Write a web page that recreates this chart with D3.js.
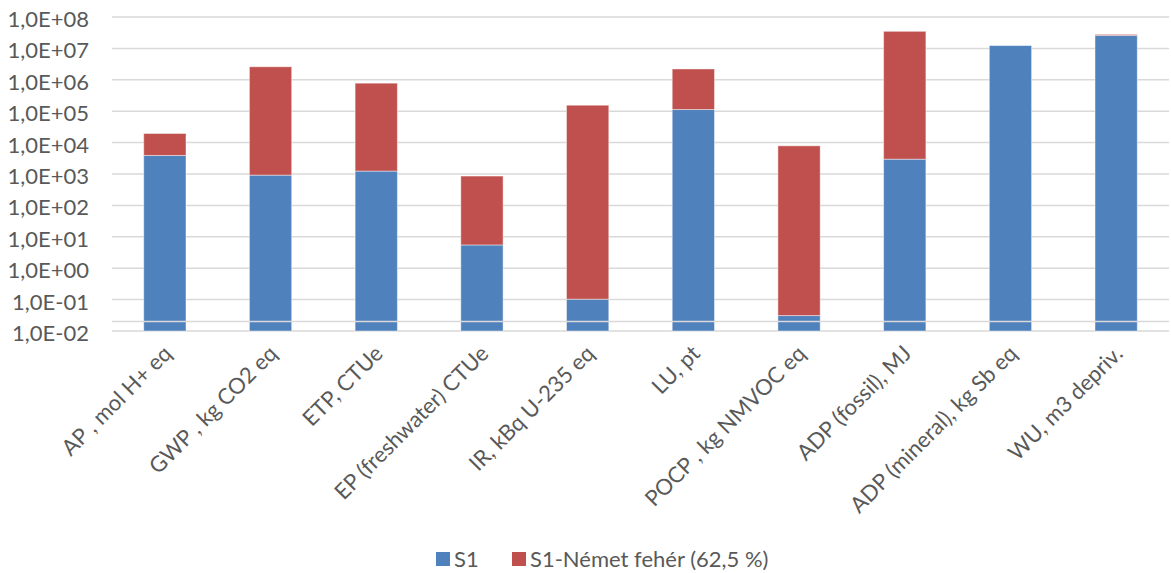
<!DOCTYPE html>
<html>
<head>
<meta charset="utf-8">
<script src="https://cdn.jsdelivr.net/npm/d3@7"></script>
<style>
  body { margin: 0; background: #fff; }
  text { font-family: Lato, "Open Sans", sans-serif; fill: #595959; }
</style>
</head>
<body>
<script>
'use strict';

var categories = ["AP , mol H+ eq", "GWP , kg CO2 eq", "ETP, CTUe", "EP (freshwater) CTUe",
  "IR, kBq U-235 eq", "LU, pt", "POCP , kg NMVOC eq", "ADP (fossil), MJ",
  "ADP (mineral), kg Sb eq", "WU, m3 depriv."];
var seriesNames = ["S1", "S1-Német fehér (62,5 %)"];
var s1 = [3.9e3, 9.2e2, 1.24e3, 5.5, 0.103, 1.13e5, 0.031, 2.97e3, 1.23e7, 2.6e7];
var s2 = [1.56e4, 2.6e6, 7.8e5, 855, 1.55e5, 2.1e6, 7.9e3, 3.5e7, 0, 2.0e6];
var tickValues = [1e-2, 1e-1, 1e0, 1e1, 1e2, 1e3, 1e4, 1e5, 1e6, 1e7, 1e8];
var colors = ["#4f81bd", "#c0504d"];

var W = 1171, H = 573;
var margin = {top: 17, right: 2, bottom: 242, left: 112};
var width = W - margin.left - margin.right;
var height = H - margin.top - margin.bottom;

var svg = d3.select("body").append("svg").attr("width", W).attr("height", H);
var g = svg.append("g").attr("transform", "translate(" + margin.left + "," + margin.top + ")");

var x = d3.scaleBand().domain(categories).range([0, width]).paddingInner(0.6).paddingOuter(0.3);
var y = d3.scaleLog().domain([1e-2, 1e8]).range([height, 0]);

function fmt(v) {
  var e = Math.round(Math.log10(v));
  return "1,0E" + (e < 0 ? "-" : "+") + String(Math.abs(e)).padStart(2, "0");
}

// gridlines
g.append("g").selectAll("line").data(tickValues).join("line")
  .attr("x1", 0).attr("x2", width)
  .attr("y1", d => y(d)).attr("y2", d => y(d))
  .attr("stroke", "#d9d9d9").attr("stroke-width", 1.5);

// y labels
g.append("g").selectAll("text").data(tickValues).join("text")
  .attr("x", -23).attr("y", d => y(d)).attr("dy", "0.45em")
  .attr("text-anchor", "end").attr("font-size", 22).text(fmt);

// stacked bars
var rows = categories.map((c, i) => ({cat: c, v: [s1[i], s2[i]]}));
rows.forEach(function(r) {
  var base = 1e-2, top = 0;
  r.v.forEach(function(v, k) {
    if (!v) return;
    var lo = k === 0 ? base : top;
    top = top + v;
    g.append("rect")
      .attr("x", x(r.cat)).attr("width", x.bandwidth())
      .attr("y", y(top)).attr("height", y(lo) - y(top))
      .attr("fill", colors[k])
      .attr("stroke", "rgba(255,255,255,0.45)").attr("stroke-width", 1);
  });
});

// horizontal axis line crossing at 0.02
g.append("line")
  .attr("x1", 0).attr("x2", width)
  .attr("y1", y(0.02)).attr("y2", y(0.02))
  .attr("stroke", "#d9d9d9").attr("stroke-width", 1.5);

// category labels
g.append("g").selectAll("text").data(categories).join("text")
  .attr("transform", d => "translate(" + (x(d) + x.bandwidth() / 2 + 8) + "," + (height + 24) + ") rotate(-45)")
  .attr("text-anchor", "end").attr("font-size", 22)
  .text(d => d);

// legend
var legend = svg.append("g").attr("transform", "translate(436,559)");
var lx = [0, 76];
seriesNames.forEach(function(n, i) {
  legend.append("rect").attr("x", lx[i]).attr("y", -7).attr("width", 14).attr("height", 14).attr("fill", colors[i]);
  legend.append("text").attr("x", lx[i] + 18).attr("y", 0).attr("dy", "0.35em").attr("font-size", 22).text(n);
});
</script>
</body>
</html>
